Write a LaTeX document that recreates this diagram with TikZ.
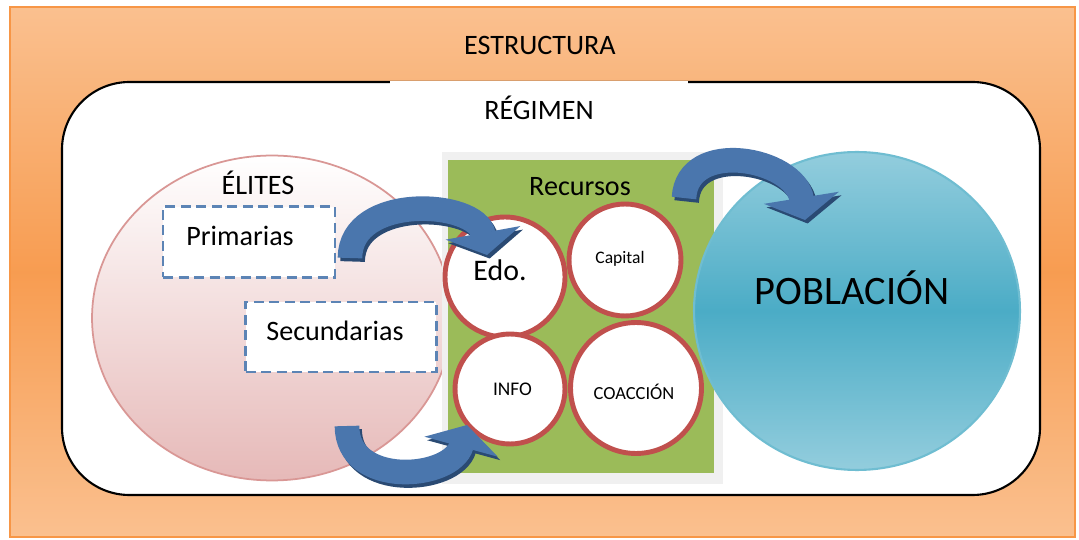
\documentclass[tikz,border=0pt]{standalone}
\usepackage{fontspec}
\setmainfont{Carlito}
\usetikzlibrary{arrows.meta,shapes.geometric}

\definecolor{naranja}{HTML}{F79646}
\definecolor{naranjaclaro}{HTML}{FAC08F}
\definecolor{rosa}{HTML}{E6B9B8}
\definecolor{rosaborde}{HTML}{D99795}
\definecolor{verde}{HTML}{9BBB59}
\definecolor{rojo}{HTML}{C0504D}
\definecolor{azul}{HTML}{4A76AD}
\definecolor{azuloscuro}{HTML}{2A4A73}
\definecolor{aqua}{HTML}{4BACC6}
\definecolor{aquaclaro}{HTML}{93CDDD}

\begin{document}
\begin{tikzpicture}[
			x=0.02cm, y=-0.02cm,
			every node/.style={
				inner sep=0pt,
				font=\fontsize{16}{19}\selectfont,
			},
			caja/.style={
				draw=azul!90!white,
				line width=1.2pt,
				dash pattern=on 0.2cm off 0.11cm,
				fill=white,
			},
			recurso/.style={
				circle,
				draw=rojo,
				line width=2.8pt,
				fill=white,
			},
			flecha/.style={
				line width=14pt,
				-{Triangle[width=1.5cm,length=0.45cm]},
			}]
		\useasboundingbox (0,0) rectangle (1079,540);
		\draw[naranja, line width=1pt, top color=naranjaclaro, bottom color=naranjaclaro, middle color=naranja!85!naranjaclaro] (10,7) rectangle (1075,537);
		\node(estructura) at (540,45) {ESTRUCTURA};
		\draw[line width=1.2pt, fill=white, rounded corners=1.35cm] (62,82) rectangle (1040,495);
		\node[fill=white, minimum width=5.96cm, minimum height=1.1cm, anchor=north](regimen) at (539,80.5) {RÉGIMEN};
		\node[ellipse, draw=rosaborde, line width=1pt, top color=white, bottom color=rosa, minimum width=7.2cm, minimum height=6.5cm](elites) at (272,318) {};
		\node(elitestxt) at (258,183) {ÉLITES};
		\node[caja, minimum width=3.44cm, minimum height=1.42cm, text depth=0.25cm](primarias) at (249,242) {Primarias\hspace*{0.36cm}};
		\node[caja, minimum width=3.82cm, minimum height=1.4cm, text depth=0.25cm](secundarias) at (341,337) {Secundarias\hspace*{0.24cm}};
		\fill[gray!12] (442,152) rectangle (723,484);
		\node[fill=verde, minimum width=5.32cm, minimum height=6.26cm, anchor=north west](panel) at (448,160) {};
		\node(recursos) at (580,187) {Recursos};
		\node[recurso, minimum size=2.4cm, text depth=0.28cm](edo) at (505,277) {\fontsize{17}{20}\selectfont Edo.\hspace*{0.2cm}};
		\node[recurso, minimum size=2.24cm, font=\fontsize{10}{12}\selectfont, text depth=0.12cm](capital) at (625,260) {Capital\hspace*{0.2cm}};
		\node[recurso, minimum size=2.2cm, font=\fontsize{11}{13}\selectfont](info) at (510,389) {\hspace*{0.1cm}INFO};
		\node[recurso, minimum size=2.62cm, font=\fontsize{10.5}{12}\selectfont, text height=0.45cm](coaccion) at (636,388) {COACCIÓN\hspace*{0.08cm}};
		\node[ellipse, draw=aqua!80!white, line width=1.2pt, top color=aquaclaro, bottom color=aquaclaro, middle color=aqua, minimum width=6.52cm, minimum height=6.36cm](poblacion) at (857,311) {};
		\node[font=\fontsize{23}{27}\selectfont](poblaciontxt) at (852,288) {POBLACIÓN};
		% flechas
		\coordinate(f1a) at (350,258);
		\coordinate(f1b) at (487,255);
		\coordinate(f2a) at (347,426);
		\coordinate(f2b) at (467,425);
		\coordinate(f3a) at (684,198);
		\coordinate(f3b) at (805,220);
		\begin{scope}[transform canvas={xshift=1.5pt,yshift=-2pt}]
			\draw[flecha, azuloscuro] (f1a) .. controls +(0,-65) and +(-10,-55) .. (f1b);
			\draw[flecha, azuloscuro] (f2a) .. controls +(0,62) and +(-15,55) .. (f2b);
			\draw[flecha, azuloscuro] (f3a) .. controls +(3,-60) and +(-10,-62) .. (f3b);
		\end{scope}
		\draw[flecha, azul] (f1a) .. controls +(0,-65) and +(-10,-55) .. (f1b);
		\draw[flecha, azul] (f2a) .. controls +(0,62) and +(-15,55) .. (f2b);
		\draw[flecha, azul] (f3a) .. controls +(3,-60) and +(-10,-62) .. (f3b);
	\end{tikzpicture}
\end{document}
